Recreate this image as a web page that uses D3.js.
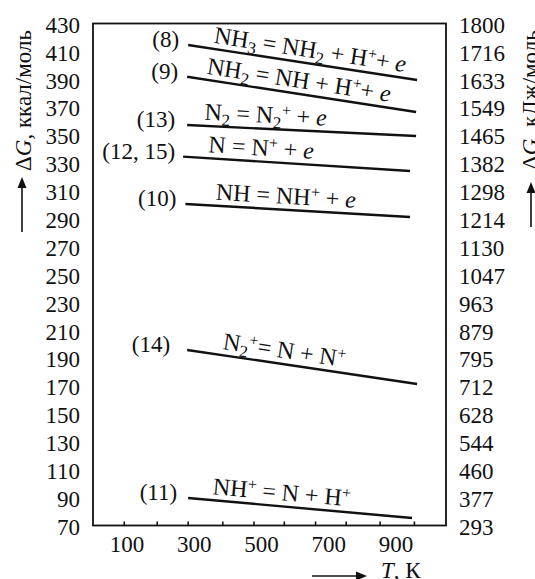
<!DOCTYPE html>
<html>
<head>
<meta charset="utf-8">
<script src="https://cdn.jsdelivr.net/npm/d3@7"></script>
<style>
  body { margin: 0; background: #fff; }
  text { font-family: "Liberation Serif", "Times New Roman", serif; fill: #111; }
</style>
</head>
<body>
<div id="chart"></div>
<script>
// left axis, kcal/mol
var gTicks = [430, 410, 390, 370, 350, 330, 310, 290, 270, 250, 230, 210, 190, 170, 150, 130, 110, 90, 70];
// right axis, the same ticks in kJ/mol
var kjTicks = ["1800", "1716", "1633", "1549", "1465", "1382", "1298", "1214", "1130", "1047",
               "963", "879", "795", "712", "628", "544", "460", "377", "293"];
var tLabels = [100, 300, 500, 700, 900];
// small tick marks on the T axis (as drawn in the figure)
var tMinor = [93, 191, 283, 386, 479, 569, 662, 753, 854, 956];

// reactions: number, equation (_ = subscript, ^ = superscript, ~ = italic)
var reactionNums = ["(8)", "(9)", "(13)", "(12, 15)", "(10)", "(14)", "(11)"];
var equations = [
    "NH_3 = NH_2 + H^++ ~e",
    "NH_2 = NH + H^++ ~e",
    "N_2 = N_2^+ + ~e",
    "N = N^+ + ~e",
    "NH = NH^+ + ~e",
    "N_2^+= N + N^+",
    "NH^+ = N + H^+"
];
var tStart = [283, 280, 280, 268, 275, 280, 283];
var tEnd   = [964, 961, 961, 943, 943, 964, 949];
var gStart = [414.6, 391.8, 357.2, 334.5, 300.6, 195.9, 89.7];
var gEnd   = [389.5, 366.5, 349.3, 324.2, 291.2, 171.5, 75.4];

// layout tweaks per label (px)
var numGap = [9, 9, 12, 8, 9, 17, 11];
var eqDx   = [25, 19, 17, 25, 30, 35, 24];

var width = 535, height = 579;
var plot = {left: 93, right: 446, top: 23.5, bottom: 525.5};

var svg = d3.select("#chart").append("svg")
    .attr("width", width)
    .attr("height", height);

var x = d3.scaleLinear().domain([0, 1050]).range([plot.left, plot.right]);
var y = d3.scaleLinear().domain([70, 430]).range([plot.bottom, plot.top]);

// frame
svg.append("rect")
    .attr("x", plot.left).attr("y", plot.top)
    .attr("width", plot.right - plot.left).attr("height", plot.bottom - plot.top)
    .attr("fill", "none").attr("stroke", "#111").attr("stroke-width", 1.8);

// left axis
var gl = svg.append("g")
    .attr("transform", "translate(" + plot.left + ",0)")
    .call(d3.axisLeft(y).tickValues(gTicks).tickSize(0).tickPadding(13));
// right axis
var gr = svg.append("g")
    .attr("transform", "translate(" + plot.right + ",0)")
    .call(d3.axisRight(y).tickValues(gTicks).tickSize(0).tickPadding(13)
        .tickFormat(function (d, i) { return kjTicks[i]; }));
// bottom axis labels
var gb = svg.append("g")
    .attr("transform", "translate(0," + plot.bottom + ")")
    .call(d3.axisBottom(x).tickValues(tLabels).tickSize(0).tickPadding(10));

[gl, gr, gb].forEach(function (g) {
    g.select(".domain").remove();
    g.selectAll("text")
        .style("font-family", '"Liberation Serif", serif')
        .style("font-size", "23px")
        .attr("fill", "#111");
});
gl.selectAll("text").attr("dy", "0.38em");
gr.selectAll("text").attr("dy", "0.38em");

// small inward ticks on T axis
svg.append("g").selectAll("line")
    .data(tMinor)
    .enter().append("line")
    .attr("x1", function (d) { return x(d); })
    .attr("x2", function (d) { return x(d); })
    .attr("y1", plot.bottom)
    .attr("y2", plot.bottom - 4)
    .attr("stroke", "#111").attr("stroke-width", 1.6);

// simple markup to tspans
function addRich(t, s) {
    var parts = s.split(/(_[0-9]|\^\+|~e)/).filter(function (p) { return p !== ""; });
    var cur = 0;
    parts.forEach(function (p) {
        var target = 0, txt = p, size = null, italic = false;
        if (p[0] === "_") { target = 5; txt = p.slice(1); size = "17px"; }
        else if (p[0] === "^") { target = -8; txt = p.slice(1); size = "16px"; }
        else if (p[0] === "~") { txt = p.slice(1); italic = true; }
        var sp = t.append("tspan").attr("dy", target - cur).text(txt);
        if (size) sp.style("font-size", size);
        if (italic) sp.style("font-style", "italic");
        cur = target;
    });
}

// reaction lines
var lines = svg.append("g");
reactionNums.forEach(function (num, i) {
    var x1 = x(tStart[i]), y1 = y(gStart[i]);
    var x2 = x(tEnd[i]), y2 = y(gEnd[i]);
    lines.append("line")
        .attr("x1", x1).attr("y1", y1)
        .attr("x2", x2).attr("y2", y2)
        .attr("stroke", "#111").attr("stroke-width", 2.4);

    lines.append("text")
        .attr("x", x1 - numGap[i])
        .attr("y", y1 + 2)
        .attr("text-anchor", "end")
        .style("font-size", "23px")
        .text(num);

    var slope = (y2 - y1) / (x2 - x1);
    var angle = Math.atan(slope) * 180 / Math.PI;
    var px = x1 + eqDx[i];
    var py = y1 + slope * eqDx[i] - 6;
    var t = lines.append("text")
        .attr("transform", "translate(" + px + "," + py + ") rotate(" + angle + ")")
        .style("font-size", "24px");
    addRich(t, equations[i]);
});

// arrows and axis titles
function arrow(x1, y1, x2, y2) {
    var a = Math.atan2(y2 - y1, x2 - x1);
    var L = 11, W = 4.5;
    var bx = x2 - L * Math.cos(a), by = y2 - L * Math.sin(a);
    svg.append("line")
        .attr("x1", x1).attr("y1", y1).attr("x2", bx).attr("y2", by)
        .attr("stroke", "#111").attr("stroke-width", 1.6);
    svg.append("path")
        .attr("d", "M" + x2 + "," + y2 +
            "L" + (bx + W * Math.sin(a)) + "," + (by - W * Math.cos(a)) +
            "L" + (bx - W * Math.sin(a)) + "," + (by + W * Math.cos(a)) + "Z")
        .attr("fill", "#111");
}

function axisTitle(tx, ty, unit) {
    var t = svg.append("text")
        .attr("transform", "translate(" + tx + "," + ty + ") rotate(-90)")
        .style("font-size", "23px");
    t.append("tspan").text("Δ");
    t.append("tspan").style("font-style", "italic").text("G");
    t.append("tspan").text(", " + unit);
}
axisTitle(31, 171, "ккал/моль");
arrow(22, 232, 22, 177);
axisTitle(538, 170, "кДж/моль");
arrow(531, 227, 531, 182);

// T axis title
arrow(312, 576, 367, 576);
var tt = svg.append("text")
    .attr("x", 381).attr("y", 578)
    .style("font-size", "23px");
tt.append("tspan").style("font-style", "italic").text("T");
tt.append("tspan").text(", К");
</script>
</body>
</html>
